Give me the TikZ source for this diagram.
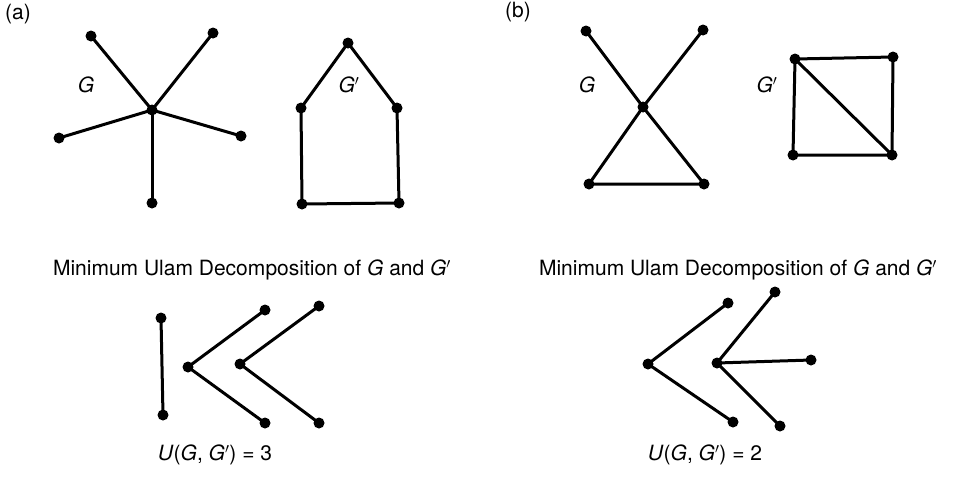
\documentclass[tikz,border=0pt]{standalone}
\usepackage{fontspec}
\setmainfont{TeX Gyre Heros}
\tikzset{
  vtx/.style={circle,fill=black,inner sep=0pt,minimum size=11pt},
  edge/.style={line width=3pt,line cap=round},
  lbl/.style={font=\fontsize{21}{25}\selectfont,inner sep=0pt}
}
\begin{document}
\begin{tikzpicture}[x=1pt,y=-1pt]
	\useasboundingbox (0,0) rectangle (957,477);
	% part (a)
	\node[lbl] (la) at (18,14) {(a)};
	\node[vtx] (ac) at (152,110) {};
	\node[vtx] (a1) at (91,36) {};
	\node[vtx] (a2) at (213,33) {};
	\node[vtx] (a3) at (59,138) {};
	\node[vtx] (a4) at (241,136) {};
	\node[vtx] (a5) at (152,203) {};
	\foreach \v in {a1,a2,a3,a4,a5}
		\draw[edge] (ac.center)--(\v.center);
	\node[lbl] (aG) at (86,85) {\textit{G}};
	\node[vtx] (h1) at (348,43) {};
	\node[vtx] (h2) at (301,108) {};
	\node[vtx] (h3) at (397,108) {};
	\node[vtx] (h4) at (302,204) {};
	\node[vtx] (h5) at (399,203) {};
	\draw[edge] (h1.center)--(h2.center)--(h4.center)--(h5.center)--(h3.center)--(h1.center);
	\node[lbl] (aH) at (349,85) {\textit{G}$'$};
	\node[lbl] (acap) at (252,270) {Minimum Ulam Decomposition of \textit{G} and \textit{G}$'$};
	\node[vtx] (u1) at (161,318) {};
	\node[vtx] (u2) at (163,415) {};
	\draw[edge] (u1.center)--(u2.center);
	\node[vtx] (v1) at (188,367) {};
	\node[vtx] (v2) at (265,310) {};
	\node[vtx] (v3) at (265,423) {};
	\draw[edge] (v2.center)--(v1.center)--(v3.center);
	\node[vtx] (w1) at (240,364) {};
	\node[vtx] (w2) at (319,306) {};
	\node[vtx] (w3) at (319,423) {};
	\draw[edge] (w2.center)--(w1.center)--(w3.center);
	\node[lbl] (aU) at (215,455) {\textit{U}(\textit{G}, \textit{G}$'$) = 3};
	% part (b)
	\node[lbl] (lb) at (518,12) {(b)};
	\node[vtx] (bc) at (643,107) {};
	\node[vtx] (b1) at (586,31) {};
	\node[vtx] (b2) at (703,30) {};
	\node[vtx] (b3) at (589,184) {};
	\node[vtx] (b4) at (704,184) {};
	\draw[edge] (b1.center)--(bc.center)--(b4.center)--(b3.center)--(bc.center)--(b2.center);
	\node[lbl] (bG) at (587,85) {\textit{G}};
	\node[vtx] (s1) at (795,59) {};
	\node[vtx] (s2) at (893,57) {};
	\node[vtx] (s3) at (793,155) {};
	\node[vtx] (s4) at (892,155) {};
	\draw[edge] (s1.center)--(s2.center)--(s4.center)--(s3.center)--(s1.center)--(s4.center);
	\node[lbl] (bH) at (767,85) {\textit{G}$'$};
	\node[lbl] (bcap) at (738,270) {Minimum Ulam Decomposition of \textit{G} and \textit{G}$'$};
	\node[vtx] (x1) at (648,364) {};
	\node[vtx] (x2) at (728,303) {};
	\node[vtx] (x3) at (733,422) {};
	\draw[edge] (x2.center)--(x1.center)--(x3.center);
	\node[vtx] (y1) at (717,363) {};
	\node[vtx] (y2) at (775,292) {};
	\node[vtx] (y3) at (811,360) {};
	\node[vtx] (y4) at (780,426) {};
	\foreach \v in {y2,y3,y4}
		\draw[edge] (y1.center)--(\v.center);
	\node[lbl] (bU) at (705,455) {\textit{U}(\textit{G}, \textit{G}$'$) = 2};
\end{tikzpicture}
\end{document}
